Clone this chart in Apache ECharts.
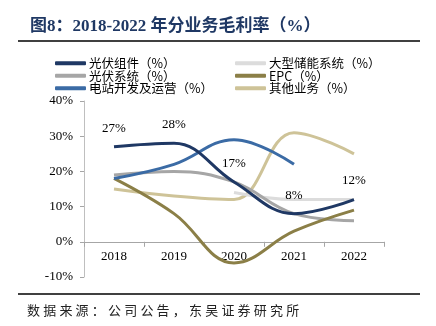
<!DOCTYPE html>
<html><head><meta charset="utf-8">
<script src="https://cdn.jsdelivr.net/npm/echarts@6/dist/echarts.min.js"></script>
<style>html,body{margin:0;padding:0;background:#fff}#c{width:436px;height:326px}
#src{position:absolute;left:27px;top:300px;font:13px "Noto Sans CJK SC",sans-serif;letter-spacing:3.2px;color:#222;white-space:nowrap}</style>
</head><body><div id="c"></div><div id="src">数据来源：公司公告，东吴证券研究所</div>
<script>
const categories = ['2018','2019','2020','2021','2022'];
const yTicks = [-10, 0, 10, 20, 30, 40];
const pvModule = [27, 28, 17, 8, 12];
const pvSystem = [19, 20, 17, 8, 6];
const plantDev = [18, 22, 29, 22, null];
const storage = [null, null, 14, 12, 12];
const epc = [18, 8, -6, 3, 9];
const other = [15, 13, 12, 31, 25];

const serifFont = '"Liberation Serif", "Times New Roman", "Noto Sans CJK SC", serif';
const cjkFont = '"Noto Sans CJK SC", "Liberation Serif", sans-serif';
const names = ['光伏组件（%）','光伏系统（%）','电站开发及运营（%）','大型储能系统（%）','EPC（%）','其他业务（%）'];
const colors = ['#1F3864','#A6A6A6','#3B6BA5','#DCDCDC','#8B7F47','#CEC398'];
const datas = [pvModule, pvSystem, plantDev, storage, epc, other];
const zOrder = [6,3,5,2,4,1];

const series = names.map((n,i)=>({
  name:n, type:'line', data:datas[i], smooth:0.4, showSymbol:false, symbol:'none',
  connectNulls:false, z: zOrder[i],
  lineStyle:{color:colors[i], width:3}, itemStyle:{color:colors[i]},
  label: i===0 ? {show:true, position:'top', distance:12, formatter:p=>p.value+'%',
     fontFamily:serifFont, fontSize:13, color:'#000'} : {show:false},
  emphasis:{disabled:true}
}));
series[0].showSymbol = true; series[0].symbol='circle'; series[0].symbolSize=0.1;

const legendCommon = {orient:'vertical', itemWidth:31, itemHeight:4, icon:'roundRect', itemGap:0,
  textStyle:{fontFamily:cjkFont, fontSize:12.5, color:'#000', padding:[0,0,0,-2]}, selectedMode:false};

const chart = echarts.init(document.getElementById('c'), null, {renderer:'canvas'});
chart.setOption({
  animation:false,
  title:{text:'图8：2018-2022 年分业务毛利率（%）', left:25, top:13,
    textStyle:{fontFamily:serifFont, fontSize:17, fontWeight:'bold', color:'#1F3864'}},
  legend:[
    Object.assign({left:50, top:52, data:names.slice(0,3)}, legendCommon),
    Object.assign({left:230, top:52, data:names.slice(3,6)}, legendCommon)
  ],
  grid:{left:84, right:52, top:101, bottom:49},
  xAxis:{type:'category', data:categories, boundaryGap:true,
    axisLine:{onZero:true, lineStyle:{color:'#A6A6A6', width:1}},
    axisTick:{show:true, length:5, lineStyle:{color:'#A6A6A6'}},
    axisLabel:{fontFamily:serifFont, fontSize:13, color:'#000', margin:-27}},
  yAxis:{type:'value', min:yTicks[0], max:yTicks[yTicks.length-1], interval:10,
    splitLine:{show:false},
    axisLine:{show:true, lineStyle:{color:'#BFBFBF'}},
    axisTick:{show:true, length:4, lineStyle:{color:'#A6A6A6'}},
    axisLabel:{fontFamily:serifFont, fontSize:13, color:'#000', margin:11, formatter:v=>v+'%'}},
  graphic:[
    {type:'line', shape:{x1:18,y1:41,x2:420,y2:41}, style:{stroke:'#000', lineWidth:1.5}},
    {type:'line', shape:{x1:18,y1:294,x2:420,y2:294}, style:{stroke:'#000', lineWidth:1.5}}
  ],
  series: series
});
</script></body></html>
